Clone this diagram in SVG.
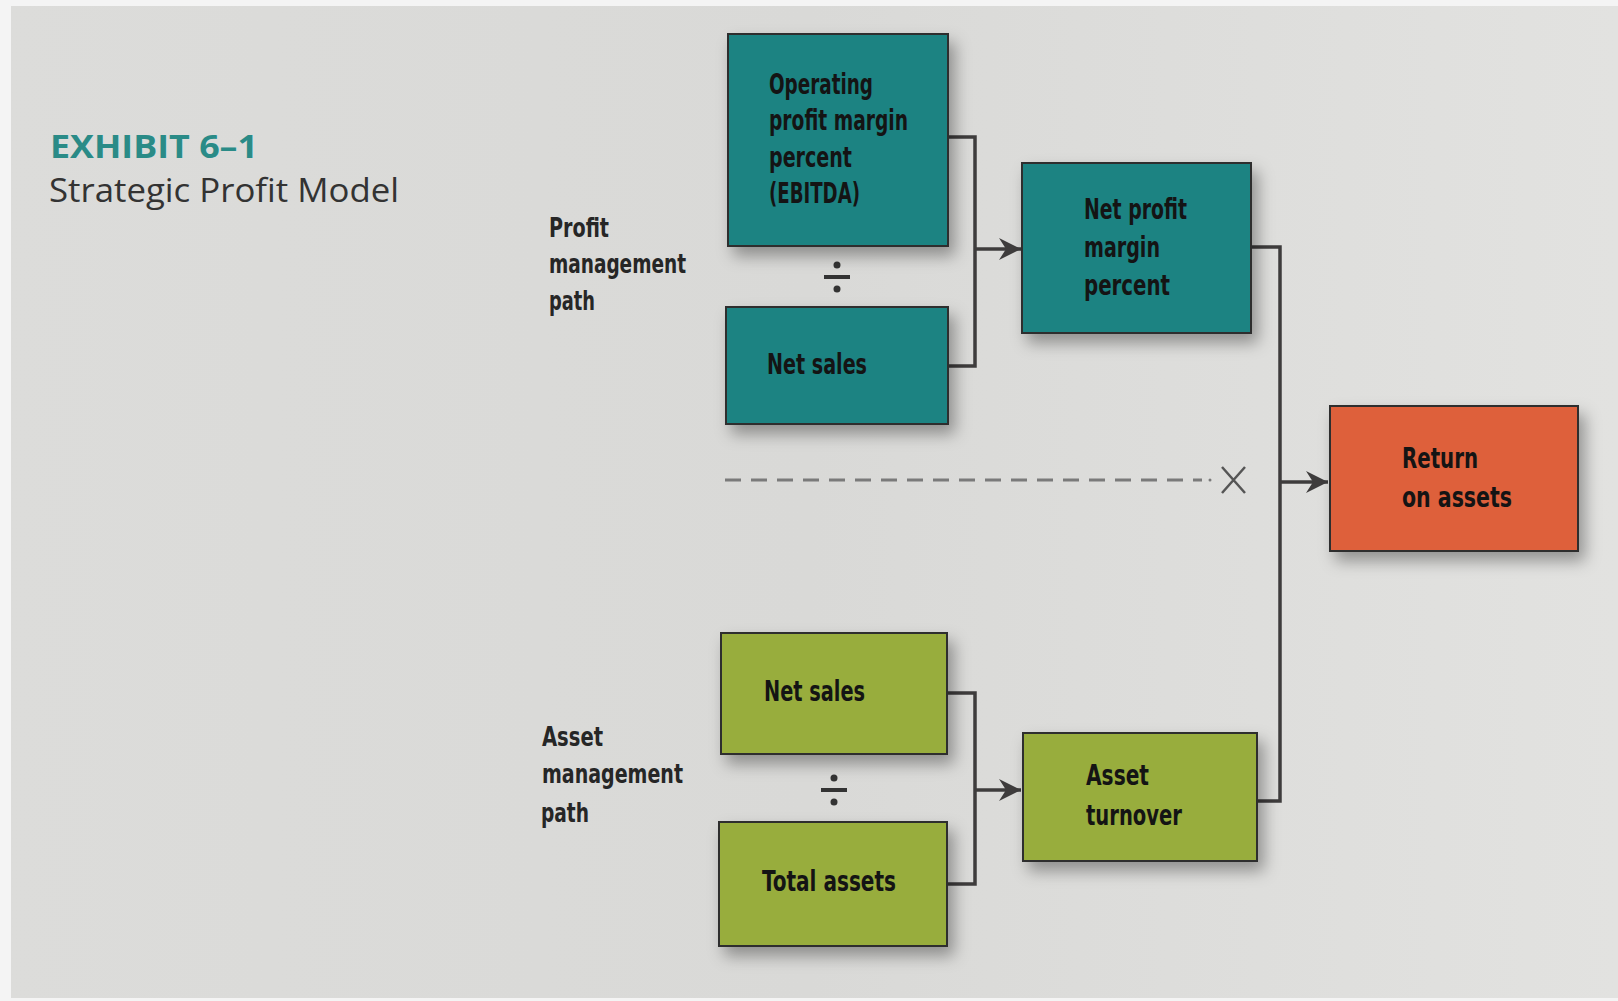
<svg xmlns="http://www.w3.org/2000/svg" width="1618" height="1001" viewBox="0 0 1618 1001">
<defs>
<linearGradient id="bg" x1="0" y1="0" x2="1" y2="0">
<stop offset="0" stop-color="#dcdcda"/>
<stop offset="0.5" stop-color="#d9d9d7"/>
<stop offset="1" stop-color="#e2e2e0"/>
</linearGradient>
<filter id="sh" x="-20%" y="-20%" width="150%" height="150%">
<feDropShadow dx="6" dy="9" stdDeviation="8" flood-color="#000" flood-opacity="0.35"/>
</filter>
<marker id="arr" markerUnits="userSpaceOnUse" markerWidth="26" markerHeight="26" viewBox="0 0 26 26" refX="24" refY="13" orient="auto">
<path d="M2,2 L24,13 L2,24 L9,13 Z" fill="#3e3c3c"/>
</marker>
<style>
.box{stroke:#2e2e2e;stroke-width:2;filter:url(#sh)}
.teal{fill:#1f8382}
.orange{fill:#de603b}
.green{fill:#98ad3e}
.t{font-family:"Liberation Sans Narrow","DejaVu Sans Condensed","Liberation Sans",sans-serif;font-weight:bold;font-size:28px;fill:#141414}
.lbl{font-family:"Liberation Sans Narrow","DejaVu Sans Condensed","Liberation Sans",sans-serif;font-weight:bold;font-size:27px;fill:#262626}
.con{fill:none;stroke:#3e3c3c;stroke-width:3.5}
.dash{fill:none;stroke:#7a7a7a;stroke-width:3;stroke-dasharray:16,10}
</style>
</defs>
<rect x="0" y="0" width="1618" height="1001" fill="url(#bg)"/>
<rect x="0" y="0" width="1618" height="6" fill="#f4f4f4"/>
<rect x="0" y="0" width="11" height="1001" fill="#f4f4f4"/>
<rect x="0" y="998" width="1618" height="3" fill="#f4f4f4"/>

<g id="title">
<text x="50" y="158" font-family="'Open Sans','Liberation Sans',sans-serif" font-weight="700" font-size="33" fill="#2a8b87" textLength="208" lengthAdjust="spacingAndGlyphs">EXHIBIT 6–1</text>
<text x="49" y="202" font-family="'Open Sans','Liberation Sans',sans-serif" font-weight="500" font-size="32" fill="#333333" textLength="350" lengthAdjust="spacingAndGlyphs">Strategic Profit Model</text>
</g>

<g id="profit-path-label">
<text class="lbl" x="549" y="237" textLength="60" lengthAdjust="spacingAndGlyphs">Profit</text>
<text class="lbl" x="549" y="273" textLength="137" lengthAdjust="spacingAndGlyphs">management</text>
<text class="lbl" x="549" y="310" textLength="46" lengthAdjust="spacingAndGlyphs">path</text>
</g>
<g id="asset-path-label">
<text class="lbl" x="542" y="746" textLength="61" lengthAdjust="spacingAndGlyphs">Asset</text>
<text class="lbl" x="542" y="783" textLength="141" lengthAdjust="spacingAndGlyphs">management</text>
<text class="lbl" x="541" y="822" textLength="48" lengthAdjust="spacingAndGlyphs">path</text>
</g>

<g id="connectors">
<polyline class="con" points="948,137 975,137 975,366 948,366"/>
<line class="con" x1="975" y1="249" x2="1021" y2="249" marker-end="url(#arr)"/>
<polyline class="con" points="1251,247 1280,247 1280,801 1257,801"/>
<line class="con" x1="1280" y1="482" x2="1328" y2="482" marker-end="url(#arr)"/>
<polyline class="con" points="947,693 975,693 975,884 947,884"/>
<line class="con" x1="975" y1="790" x2="1021" y2="790" marker-end="url(#arr)"/>
<line class="dash" x1="725" y1="480" x2="1202" y2="480"/>
<circle cx="1210" cy="480" r="1.5" fill="#7a7a7a"/>
<path d="M1222,467 L1245,493 M1245,467 L1222,493" stroke="#555" stroke-width="2.5" fill="none"/>
</g>

<g id="div1">
<circle cx="837" cy="265" r="3.5" fill="#333"/>
<rect x="824" y="275" width="26" height="4" fill="#333"/>
<circle cx="837" cy="289" r="3.5" fill="#333"/>
</g>
<g id="div2">
<circle cx="834" cy="778" r="3.5" fill="#333"/>
<rect x="821" y="788" width="26" height="4" fill="#333"/>
<circle cx="834" cy="802" r="3.5" fill="#333"/>
</g>

<g id="operating-profit-margin">
<rect class="box teal" x="728" y="34" width="220" height="212"/>
<text class="t" x="769" y="94" textLength="104" lengthAdjust="spacingAndGlyphs">Operating</text>
<text class="t" x="769" y="130" textLength="139" lengthAdjust="spacingAndGlyphs">profit margin</text>
<text class="t" x="769" y="167" textLength="83" lengthAdjust="spacingAndGlyphs">percent</text>
<text class="t" x="769" y="203" textLength="91" lengthAdjust="spacingAndGlyphs">(EBITDA)</text>
</g>
<g id="net-sales-profit">
<rect class="box teal" x="726" y="307" width="222" height="117"/>
<text class="t" x="767" y="374" textLength="100" lengthAdjust="spacingAndGlyphs">Net sales</text>
</g>
<g id="net-profit-margin">
<rect class="box teal" x="1022" y="163" width="229" height="170"/>
<text class="t" x="1084" y="219" textLength="103" lengthAdjust="spacingAndGlyphs">Net profit</text>
<text class="t" x="1084" y="257" textLength="76" lengthAdjust="spacingAndGlyphs">margin</text>
<text class="t" x="1084" y="295" textLength="86" lengthAdjust="spacingAndGlyphs">percent</text>
</g>
<g id="return-on-assets">
<rect class="box orange" x="1330" y="406" width="248" height="145"/>
<text class="t" x="1402" y="468" textLength="76" lengthAdjust="spacingAndGlyphs">Return</text>
<text class="t" x="1402" y="507" textLength="110" lengthAdjust="spacingAndGlyphs">on assets</text>
</g>
<g id="net-sales-asset">
<rect class="box green" x="721" y="633" width="226" height="121"/>
<text class="t" x="764" y="701" textLength="101" lengthAdjust="spacingAndGlyphs">Net sales</text>
</g>
<g id="total-assets">
<rect class="box green" x="719" y="822" width="228" height="124"/>
<text class="t" x="762" y="891" textLength="134" lengthAdjust="spacingAndGlyphs">Total assets</text>
</g>
<g id="asset-turnover">
<rect class="box green" x="1023" y="733" width="234" height="128"/>
<text class="t" x="1086" y="785" textLength="63" lengthAdjust="spacingAndGlyphs">Asset</text>
<text class="t" x="1086" y="825" textLength="96" lengthAdjust="spacingAndGlyphs">turnover</text>
</g>
</svg>
